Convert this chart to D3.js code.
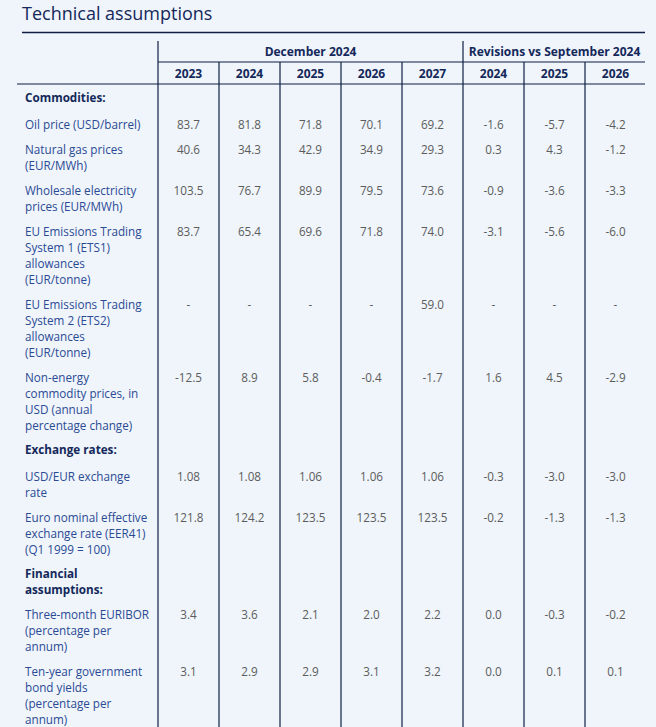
<!DOCTYPE html>
<html><head><meta charset="utf-8">
<script src="https://cdn.jsdelivr.net/npm/d3@7"></script>
<style>
html,body{margin:0;padding:0;background:#eff5fb;}
svg{display:block;font-family:"Open Sans",sans-serif;}
</style></head>
<body>
<script>
// ---- data ----
const title = "Technical assumptions";
const groupHeaders = ["December 2024", "Revisions vs September 2024"];
const decYears = ["2023", "2024", "2025", "2026", "2027"];
const revYears = ["2024", "2025", "2026"];

// row labels (wrapped as in the source), section headers flagged
const rowLabels = [
  {lines: ["Commodities:"], section: true},
  {lines: ["Oil price (USD/barrel)"]},
  {lines: ["Natural gas prices", "(EUR/MWh)"]},
  {lines: ["Wholesale electricity", "prices (EUR/MWh)"]},
  {lines: ["EU Emissions Trading", "System 1 (ETS1)", "allowances", "(EUR/tonne)"]},
  {lines: ["EU Emissions Trading", "System 2 (ETS2)", "allowances", "(EUR/tonne)"]},
  {lines: ["Non-energy", "commodity prices, in", "USD (annual", "percentage change)"]},
  {lines: ["Exchange rates:"], section: true},
  {lines: ["USD/EUR exchange", "rate"]},
  {lines: ["Euro nominal effective", "exchange rate (EER41)", "(Q1 1999 = 100)"]},
  {lines: ["Financial", "assumptions:"], section: true},
  {lines: ["Three-month EURIBOR", "(percentage per", "annum)"]},
  {lines: ["Ten-year government", "bond yields", "(percentage per", "annum)"]}
];

// values: columns Dec 2023..2027, Revisions 2024..2026
const oilPrice      = ["83.7", "81.8", "71.8", "70.1", "69.2", "-1.6", "-5.7", "-4.2"];
const gasPrice      = ["40.6", "34.3", "42.9", "34.9", "29.3", "0.3", "4.3", "-1.2"];
const elecPrice     = ["103.5", "76.7", "89.9", "79.5", "73.6", "-0.9", "-3.6", "-3.3"];
const ets1          = ["83.7", "65.4", "69.6", "71.8", "74.0", "-3.1", "-5.6", "-6.0"];
const ets2          = ["-", "-", "-", "-", "59.0", "-", "-", "-"];
const nonEnergy     = ["-12.5", "8.9", "5.8", "-0.4", "-1.7", "1.6", "4.5", "-2.9"];
const usdEur        = ["1.08", "1.08", "1.06", "1.06", "1.06", "-0.3", "-3.0", "-3.0"];
const eer41         = ["121.8", "124.2", "123.5", "123.5", "123.5", "-0.2", "-1.3", "-1.3"];
const euribor       = ["3.4", "3.6", "2.1", "2.0", "2.2", "0.0", "-0.3", "-0.2"];
const bondYields    = ["3.1", "2.9", "2.9", "3.1", "3.2", "0.0", "0.1", "0.1"];

const rowValues = [null, oilPrice, gasPrice, elecPrice, ets1, ets2, nonEnergy,
                   null, usdEur, eer41, null, euribor, bondYields];

// ---- layout ----
const W = 656, H = 727;
const navy = "#14285a", labelBlue = "#2b4a94", valueGrey = "#5c5c5c", lineCol = "#0f1f45";
const svg = d3.select("body").append("svg").attr("width", W).attr("height", H);

const nCols = decYears.length + revYears.length;
const x = d3.scaleLinear().domain([0, nCols]).range([158, 646]);
const colCenter = i => (x(i) + x(i + 1)) / 2;

const lineH = 16, firstY = 98;
let acc = firstY;
const rowY = rowLabels.map((r, i) => {
  const y = acc;
  const next = rowLabels[i + 1];
  let gap = 25;
  if (r.section && r.lines.length === 1) gap = 27;
  else if (next && next.section) gap = 24;
  acc += (r.lines.length - 1) * lineH + gap;
  return y;
});

// title
svg.append("text").attr("x", 22).attr("y", 19.5).attr("font-size", 18)
  .attr("fill", navy).text(title);

// rules
const g = svg.append("g").attr("stroke", lineCol).attr("stroke-width", 1.2);
g.append("line").attr("x1", 22).attr("x2", 645).attr("y1", 32.5).attr("y2", 32.5).attr("stroke-width", 1.5);
g.append("line").attr("x1", 158).attr("x2", 645).attr("y1", 62).attr("y2", 62);
g.append("line").attr("x1", 17).attr("x2", 645).attr("y1", 84).attr("y2", 84);
for (let i = 0; i < nCols; i++) {
  const top = (i === 0 || i === decYears.length) ? 41 : 62;
  g.append("line").attr("x1", x(i)).attr("x2", x(i)).attr("y1", top).attr("y2", H);
}

// group headers
const hdr = svg.append("g").attr("font-size", 12).attr("font-weight", "bold")
  .attr("fill", navy).attr("text-anchor", "middle");
hdr.append("text").attr("x", (x(0) + x(decYears.length)) / 2).attr("y", 56).text(groupHeaders[0]);
hdr.append("text").attr("x", (x(decYears.length) + x(nCols)) / 2).attr("y", 56).text(groupHeaders[1]);
decYears.concat(revYears).forEach((yr, i) => {
  hdr.append("text").attr("x", colCenter(i)).attr("y", 77.5).text(yr);
});

// row labels
const lab = svg.append("g").attr("font-size", 11.7);
rowLabels.forEach((r, ri) => {
  const t = lab.append("text").attr("x", 25).attr("y", rowY[ri] + 4)
    .attr("fill", r.section ? navy : labelBlue)
    .attr("font-weight", r.section ? "bold" : "normal");
  r.lines.forEach((ln, li) => {
    t.append("tspan").attr("x", 25).attr("dy", li === 0 ? 0 : lineH).text(ln);
  });
});

// values
const vals = svg.append("g").attr("font-size", 11.7).attr("fill", valueGrey).attr("text-anchor", "middle");
rowValues.forEach((row, ri) => {
  if (!row) return;
  vals.selectAll(null).data(row).enter().append("text")
    .attr("x", (d, i) => colCenter(i)).attr("y", rowY[ri] + 4).text(d => d);
});
</script>
</body></html>
